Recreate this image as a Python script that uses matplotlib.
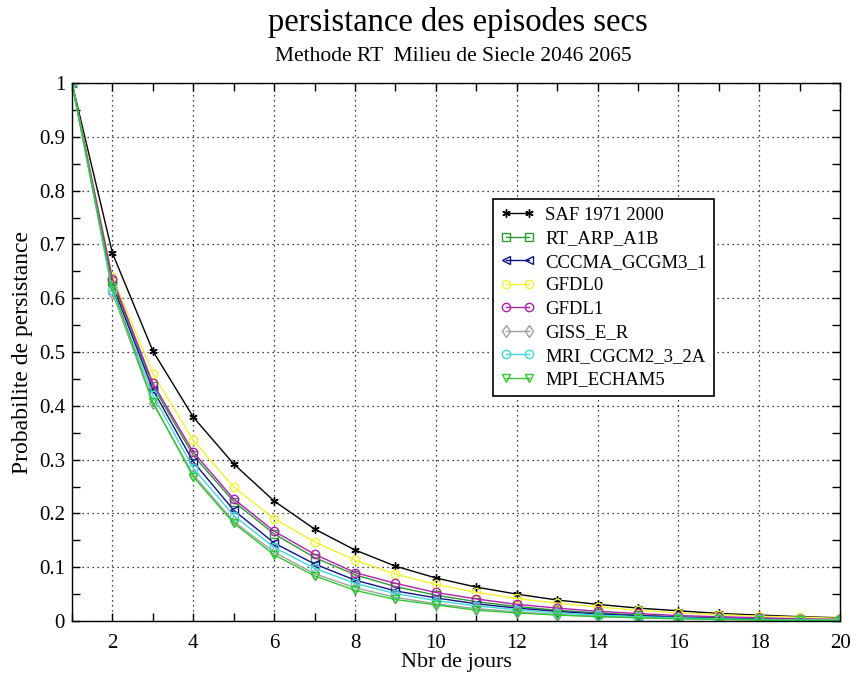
import numpy as np
import matplotlib
matplotlib.use("Agg")
import matplotlib.pyplot as plt
from matplotlib.ticker import MultipleLocator

plt.rcParams['font.family'] = ['Liberation Serif', 'DejaVu Serif']

jours = np.arange(1, 21)

saf = [1.0, 0.684, 0.502, 0.379, 0.292, 0.223, 0.171, 0.132, 0.102, 0.080,
       0.063, 0.050, 0.039, 0.031, 0.024, 0.019, 0.014, 0.011, 0.008, 0.006]
rt_arp = [1.0, 0.632, 0.437, 0.308, 0.222, 0.162, 0.118, 0.086, 0.064, 0.048,
          0.036, 0.027, 0.020, 0.015, 0.011, 0.008, 0.006, 0.005, 0.003, 0.002]
cccma = [1.0, 0.625, 0.430, 0.296, 0.206, 0.145, 0.106, 0.076, 0.056, 0.043,
         0.032, 0.024, 0.018, 0.013, 0.010, 0.007, 0.005, 0.004, 0.003, 0.002]
gfdl0 = [1.0, 0.640, 0.460, 0.336, 0.249, 0.190, 0.147, 0.113, 0.087, 0.068,
         0.053, 0.042, 0.033, 0.026, 0.020, 0.015, 0.012, 0.009, 0.007, 0.005]
gfdl1 = [1.0, 0.636, 0.442, 0.314, 0.227, 0.167, 0.124, 0.090, 0.070, 0.053,
         0.041, 0.031, 0.024, 0.018, 0.014, 0.010, 0.008, 0.006, 0.004, 0.003]
giss = [1.0, 0.610, 0.405, 0.272, 0.185, 0.128, 0.088, 0.062, 0.044, 0.032,
        0.023, 0.017, 0.012, 0.009, 0.006, 0.005, 0.003, 0.002, 0.002, 0.001]
mri = [1.0, 0.615, 0.420, 0.284, 0.196, 0.137, 0.098, 0.070, 0.051, 0.038,
       0.028, 0.021, 0.015, 0.011, 0.008, 0.006, 0.004, 0.003, 0.002, 0.002]
mpi = [1.0, 0.620, 0.407, 0.268, 0.182, 0.123, 0.084, 0.057, 0.040, 0.030,
       0.020, 0.015, 0.011, 0.008, 0.006, 0.004, 0.003, 0.002, 0.001, 0.001]

series = [
    ('SAF 1971 2000', saf, 'black', (6, 2, 0)),
    ('RT_ARP_A1B', rt_arp, '#2e9a2e', 's'),
    ('CCCMA_GCGM3_1', cccma, '#10108a', '<'),
    ('GFDL0', gfdl0, '#f2f230', 'o'),
    ('GFDL1', gfdl1, '#b020b0', 'o'),
    ('GISS_E_R', giss, '#a0a0a0', 'd'),
    ('MRI_CGCM2_3_2A', mri, '#40d8d8', 'o'),
    ('MPI_ECHAM5', mpi, '#30c830', 'v'),
]

fig = plt.figure(figsize=(8.52, 6.75), dpi=100)
ax = fig.add_axes([0.0845, 0.08, 0.9015, 0.797])

for label, vals, col, mk in series:
    ax.plot(jours, vals, color=col, lw=1.0, marker=mk, markersize=6,
            markerfacecolor='none', markeredgecolor=col, markeredgewidth=1.0,
            label=label)

ax.set_xlim(1, 20)
ax.set_ylim(0, 1)
ax.xaxis.set_minor_locator(MultipleLocator(1))
ax.yaxis.set_minor_locator(MultipleLocator(0.05))
ax.set_yticks(np.arange(0, 1.01, 0.1))
ax.set_yticklabels(['0', '0.1', '0.2', '0.3', '0.4', '0.5', '0.6', '0.7', '0.8', '0.9', '1'])
ax.set_xticks(np.arange(2, 21, 2))
ax.tick_params(which='both', direction='in', top=True, right=True,
               length=6, width=1.0, labelsize=15)
ax.tick_params(axis='x', pad=9)
ax.tick_params(axis='y', pad=5)
ax.grid(True, which='major', color='black', linestyle=(0, (1, 3)), lw=0.9)
for sp in ax.spines.values():
    sp.set_linewidth(1.0)

ax.set_xlabel('Nbr de jours', fontsize=16, labelpad=0)
ax.set_ylabel('Probabilite de persistance', fontsize=17, labelpad=4)

leg = ax.legend(loc='upper left', bbox_to_anchor=(0.548, 0.784), numpoints=2,
                fontsize=13.5, handlelength=1.8, handletextpad=0.6,
                labelspacing=0.34, borderpad=0.4, borderaxespad=0,
                fancybox=False, framealpha=1, edgecolor='black')
leg.get_frame().set_linewidth(1.2)

fig.text(0.537, 0.967, 'persistance des episodes secs', ha='center', va='center',
         fontsize=23.5)
fig.text(0.532, 0.916, 'Methode RT  Milieu de Siecle 2046 2065', ha='center',
         va='center', fontsize=15.5)

fig.savefig('out.png', dpi=100)
